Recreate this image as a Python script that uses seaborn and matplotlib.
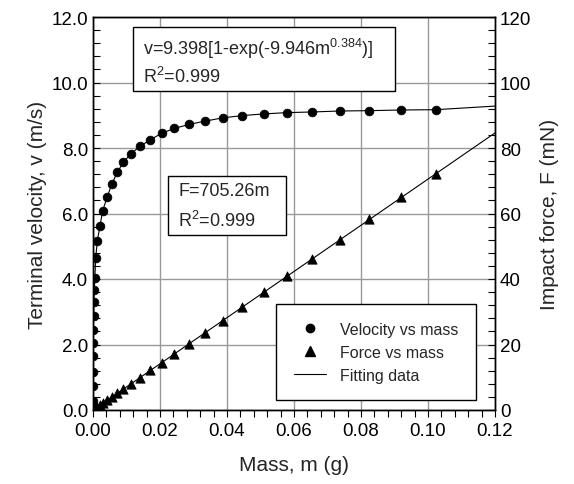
import pandas as pd
import seaborn as sns
import matplotlib.pyplot as plt
from matplotlib.lines import Line2D
from matplotlib.patches import Rectangle
from matplotlib.ticker import MultipleLocator, FormatStrFormatter

# Measured data (mass in g)
mass = [0.0000003, 0.000004, 0.000013, 0.000034, 0.000065, 0.00011, 0.00018, 0.00028, 0.0004, 0.00055,
        0.0008, 0.0013, 0.0021, 0.0029, 0.0042, 0.0056, 0.0073, 0.0090, 0.0113, 0.0140,
        0.0171, 0.0205, 0.0243, 0.0287, 0.0334, 0.0387, 0.0446, 0.0509, 0.0578, 0.0654,
        0.0737, 0.0825, 0.0920, 0.1023]
velocity = [0.28, 0.74, 1.17, 1.64, 2.05, 2.45, 2.86, 3.29, 3.67, 4.02,
            4.64, 5.17, 5.63, 6.09, 6.49, 6.90, 7.26, 7.56, 7.82, 8.05,
            8.25, 8.45, 8.60, 8.72, 8.82, 8.92, 8.99, 9.04, 9.08, 9.10,
            9.13, 9.14, 9.16, 9.17]
force = [0.0, 0.0, 0.01, 0.02, 0.05, 0.08, 0.13, 0.2, 0.28, 0.39,
         0.56, 0.92, 1.5, 2.1, 3.0, 3.9, 5.1, 6.3, 8.0, 9.9,
         12.1, 14.5, 17.1, 20.2, 23.5, 27.3, 31.5, 35.9, 40.8, 46.1,
         52.0, 58.2, 64.9, 72.2]

# Fitting lines
fit_v_mass = [0.0] + mass + [0.12]
fit_v = [0.0] + velocity + [9.28]
fit_f_mass = [0.0, 0.12]
fit_f = [0.0, 84.6]

legend_labels = ['Velocity vs mass', 'Force vs mass', 'Fitting data']

df = pd.DataFrame({'mass': mass, 'velocity': velocity, 'force': force})

sns.set_style("white")
plt.rcParams['font.family'] = ['Liberation Sans', 'DejaVu Sans']
plt.rcParams['mathtext.fontset'] = 'custom'
plt.rcParams['mathtext.rm'] = 'Liberation Sans'
plt.rcParams['mathtext.it'] = 'Liberation Sans:italic'

W, H = 574, 485
fig = plt.figure(figsize=(W / 100, H / 100), dpi=100)
L, R, T, B = 93, 495, 18, 411
ax = fig.add_axes([L / W, 1 - B / H, (R - L) / W, (B - T) / H])
ax2 = ax.twinx()

# velocity
sns.lineplot(x=fit_v_mass, y=fit_v, ax=ax, color='black', lw=0.8, sort=False, estimator=None)
sns.scatterplot(data=df, x='mass', y='velocity', ax=ax, marker='o', s=40,
                color='black', edgecolor='black', zorder=3)
# force
sns.lineplot(x=fit_f_mass, y=fit_f, ax=ax2, color='black', lw=0.8, sort=False, estimator=None)
sns.scatterplot(data=df, x='mass', y='force', ax=ax2, marker='^', s=45,
                color='black', edgecolor='black', zorder=3)

ax.set_xlim(0, 0.12)
ax.set_ylim(0, 12)
ax2.set_ylim(0, 120)

ax.xaxis.set_major_locator(MultipleLocator(0.02))
ax.xaxis.set_minor_locator(MultipleLocator(0.004))
ax.yaxis.set_major_locator(MultipleLocator(2))
ax.yaxis.set_minor_locator(MultipleLocator(0.4))
ax2.yaxis.set_major_locator(MultipleLocator(20))
ax2.yaxis.set_minor_locator(MultipleLocator(4))
ax.xaxis.set_major_formatter(FormatStrFormatter('%.2f'))
ax.yaxis.set_major_formatter(FormatStrFormatter('%.1f'))
ax2.yaxis.set_major_formatter(FormatStrFormatter('%d'))

ax.grid(True, which='major', color='#999999', lw=1.0)
ax2.grid(False)

ax.tick_params(axis='x', which='both', direction='out', length=5, width=0.8,
               labelsize=13.5, bottom=True, colors='black')
ax.tick_params(axis='y', which='both', direction='in', length=5, width=0.8,
               labelsize=13.5, left=True, colors='black')
ax2.tick_params(axis='y', which='both', direction='in', length=5, width=0.8,
                labelsize=13.5, right=True, colors='black')

for a in (ax, ax2):
    for sp in a.spines.values():
        sp.set_color('black')
        sp.set_linewidth(1.0)

ax.set_xlabel('Mass, m (g)', fontsize=15, labelpad=12)
ax.set_ylabel('Terminal velocity, v (m/s)', fontsize=15, labelpad=3)
ax2.set_ylabel('Impact force, F (mN)', fontsize=15, labelpad=6.5)


def to_ax(px, py):
    return (px - L) / (R - L), (B - py) / (B - T)


def add_box(x0, y0, x1, y1):
    ax0, ay1 = to_ax(x0, y1)
    bx, by = to_ax(x1, y0)
    ax2.add_patch(Rectangle((ax0, ay1), bx - ax0, by - ay1, transform=ax.transAxes,
                            facecolor='white', edgecolor='black', lw=1.0,
                            zorder=5, clip_on=False))


add_box(133, 28, 395, 92)
add_box(168, 177, 286, 236)
for px, py, s in [(143, 55, 'v=9.398[1-exp(-9.946m$^{0.384}$)]'),
                  (143, 83, 'R$^{2}$=0.999'),
                  (178, 196, 'F=705.26m'),
                  (178, 227, 'R$^{2}$=0.999')]:
    x, y = to_ax(px, py)
    ax2.text(x, y, s, transform=ax.transAxes, fontsize=13, va='baseline',
             ha='left', zorder=6)

handles = [Line2D([], [], ls='none', marker='o', color='black', markersize=6),
           Line2D([], [], ls='none', marker='^', color='black', markersize=6.5),
           Line2D([], [], color='black', lw=0.8)]
leg = ax2.legend(handles, legend_labels, loc='upper left',
                 bbox_to_anchor=(276 / W, 1 - 305 / H), bbox_transform=fig.transFigure,
                 borderaxespad=0, fontsize=11.5, frameon=True, fancybox=False,
                 edgecolor='black', framealpha=1, borderpad=1.1, labelspacing=0.5,
                 handlelength=2.0, handletextpad=0.9)
leg.get_frame().set_linewidth(1.0)
leg.set_zorder(7)

fig.savefig('out.png', dpi=100)
plt.close(fig)
